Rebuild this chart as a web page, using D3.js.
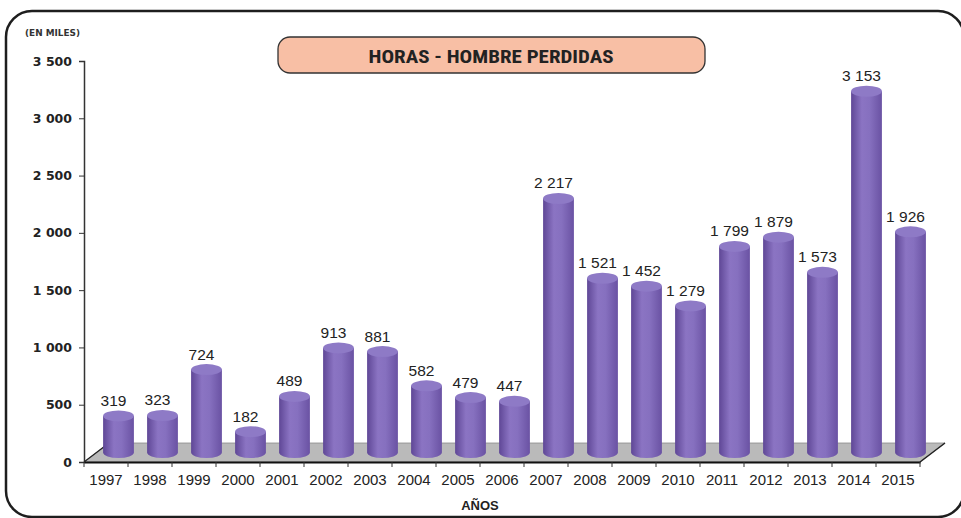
<!DOCTYPE html>
<html>
<head>
<meta charset="utf-8">
<script src="https://cdn.jsdelivr.net/npm/d3@7"></script>
<style>
  html, body { margin: 0; padding: 0; background: #fff; }
  svg { display: block; }
</style>
</head>
<body>
<svg id="chart" width="961" height="518"></svg>
<script>
// datos
const years = ['1997','1998','1999','2000','2001','2002','2003','2004','2005','2006',
               '2007','2008','2009','2010','2011','2012','2013','2014','2015'];
const horas = [319, 323, 724, 182, 489, 913, 881, 582, 479, 447,
               2217, 1521, 1452, 1279, 1799, 1879, 1573, 3153, 1926];
const yTicks = [0, 500, 1000, 1500, 2000, 2500, 3000, 3500];

const svg = d3.select('#chart');
const fmt = d => d3.format(',')(d).replace(/,/g, ' ');

// profundidad 3D del piso
const depthX = 25, depthY = -19;

const x = d3.scaleBand().domain(years).range([84, 920])
    .paddingInner(0.3).paddingOuter(0.15);
const y = d3.scaleLinear().domain([0, 3500]).range([462, 61]);

// degradado del cilindro
const defs = svg.append('defs');
const grad = defs.append('linearGradient').attr('id', 'cyl')
    .attr('x1', '0%').attr('x2', '100%').attr('y1', '0%').attr('y2', '0%');
grad.append('stop').attr('offset', '0%').attr('stop-color', '#5f4796');
grad.append('stop').attr('offset', '35%').attr('stop-color', '#8b74c3');
grad.append('stop').attr('offset', '60%').attr('stop-color', '#8670bf');
grad.append('stop').attr('offset', '100%').attr('stop-color', '#6a52a3');

// marco exterior
svg.append('rect')
    .attr('x', 6).attr('y', 11).attr('width', 958).attr('height', 506)
    .attr('rx', 26).attr('ry', 26)
    .attr('fill', 'none').attr('stroke', '#1e1e1e').attr('stroke-width', 2.5);

// piso gris
const x0 = x.range()[0], x1 = x.range()[1], y0 = y(0);
svg.append('polygon')
    .attr('points', [[x0, y0], [x1, y0], [x1 + depthX, y0 + depthY], [x0 + depthX, y0 + depthY]].join(' '))
    .attr('fill', '#bababa').attr('stroke', '#8a8a8a').attr('stroke-width', 0.8);
svg.append('line')
    .attr('x1', x0).attr('y1', y0).attr('x2', x0 + depthX).attr('y2', y0 + depthY)
    .attr('stroke', '#222').attr('stroke-width', 1.2);
svg.append('line')
    .attr('x1', x1).attr('y1', y0).attr('x2', x1 + depthX).attr('y2', y0 + depthY)
    .attr('stroke', '#222').attr('stroke-width', 1.5);

// cilindros
const bw = x.bandwidth();
const rx = bw / 2, ry = 5.5;
const bars = svg.append('g').selectAll('g')
    .data(years.map((d, i) => ({ year: d, value: horas[i] })))
    .enter().append('g');

const cx = d => x(d.year) + bw / 2 + depthX / 2;
const yBot = y0 + depthY / 2;
const yTop = d => y(d.value) + depthY / 2;

bars.append('path')
    .attr('d', d => {
        const l = cx(d) - rx, r = cx(d) + rx;
        return `M${l},${yTop(d)} L${l},${yBot} A${rx},${ry} 0 0 0 ${r},${yBot} L${r},${yTop(d)} Z`;
    })
    .attr('fill', 'url(#cyl)');

bars.append('ellipse')
    .attr('cx', cx).attr('cy', yTop)
    .attr('rx', rx).attr('ry', ry)
    .attr('fill', '#8e7ac6');

// etiquetas de valores
bars.append('text')
    .attr('x', d => cx(d) - 5)
    .attr('y', d => yTop(d) - 10)
    .attr('text-anchor', 'middle')
    .attr('font-family', 'Liberation Sans, Arial, sans-serif')
    .attr('font-size', 15.5)
    .attr('fill', '#222')
    .text(d => fmt(d.value));

// eje Y
const yAxis = svg.append('g')
    .attr('transform', `translate(${x0},0)`)
    .call(d3.axisLeft(y).tickValues(yTicks).tickSize(5).tickPadding(7).tickFormat(fmt));
yAxis.select('.domain').attr('stroke', '#333').attr('stroke-width', 1.5);
yAxis.selectAll('.tick line').attr('stroke', '#333');
yAxis.selectAll('text')
    .attr('font-family', 'DejaVu Sans, sans-serif')
    .attr('font-weight', 'bold').attr('font-size', 12.5).attr('fill', '#222');

// eje X
const xAxis = svg.append('g')
    .attr('transform', `translate(0,${y0})`)
    .call(d3.axisBottom(x).tickSize(0).tickPadding(12));
xAxis.select('.domain').attr('stroke', '#111').attr('stroke-width', 2.2);
xAxis.selectAll('text')
    .attr('font-family', 'Liberation Sans, Arial, sans-serif')
    .attr('font-size', 15).attr('fill', '#222');
const gap = x.step() * x.paddingInner() / 2;
svg.append('g').selectAll('line')
    .data(years.concat(['end']))
    .enter().append('line')
    .attr('x1', d => d === 'end' ? x1 : x(d) - gap)
    .attr('x2', d => d === 'end' ? x1 : x(d) - gap)
    .attr('y1', y0).attr('y2', y0 + 5)
    .attr('stroke', '#333');

// títulos
svg.append('text')
    .attr('x', 480).attr('y', 510)
    .attr('text-anchor', 'middle')
    .attr('font-family', 'Liberation Sans, Arial, sans-serif')
    .attr('font-weight', 'bold').attr('font-size', 13).attr('fill', '#222')
    .text('AÑOS');

svg.append('text')
    .attr('x', 25).attr('y', 36)
    .attr('font-family', 'DejaVu Sans, sans-serif')
    .attr('font-weight', 'bold').attr('font-size', 8).attr('fill', '#333')
    .attr('textLength', 55).attr('lengthAdjust', 'spacingAndGlyphs')
    .text('(EN MILES)');

svg.append('rect')
    .attr('x', 278).attr('y', 37).attr('width', 427).attr('height', 36)
    .attr('rx', 12).attr('ry', 12)
    .attr('fill', '#f8bfa5').attr('stroke', '#333').attr('stroke-width', 1.3);
svg.append('text')
    .attr('x', 491).attr('y', 62.5)
    .attr('text-anchor', 'middle')
    .attr('font-family', 'Liberation Sans Narrow, Arial Narrow, Roboto Condensed, sans-serif')
    .attr('font-weight', 'bold').attr('font-size', 18.5).attr('fill', '#222')
    .attr('textLength', 245).attr('lengthAdjust', 'spacingAndGlyphs')
    .text('HORAS - HOMBRE PERDIDAS');
</script>
</body>
</html>
